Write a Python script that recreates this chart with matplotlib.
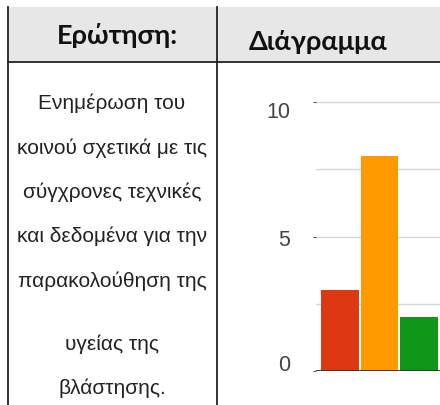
import matplotlib.pyplot as plt
from matplotlib.lines import Line2D
from matplotlib.patches import Rectangle
from matplotlib.transforms import ScaledTranslation

W, H = 440, 406

header_left = "Ερώτηση:"
header_right = "Διάγραμμα"
question_lines = [
    "Ενημέρωση του",
    "κοινού σχετικά με τις",
    "σύγχρονες τεχνικές",
    "και δεδομένα για την",
    "παρακολούθηση της",
    "υγείας της",
    "βλάστησης.",
]
line_y = [103, 148, 192, 236, 281, 344, 388]

bar_values = [3, 8, 2]
bar_colors = ["#dc3912", "#ff9900", "#109618"]
y_ticks = [0, 5, 10]


def fx(x):
    return x / W


def fy(y):
    return 1 - y / H


fig = plt.figure(figsize=(W / 100, H / 100), dpi=100)
fig.patch.set_facecolor("white")

# table header band and borders
fig.add_artist(Rectangle((fx(8), fy(63)), fx(440) - fx(8), fy(8) - fy(63),
                         transform=fig.transFigure, facecolor="#e7e7e7",
                         edgecolor="none", zorder=0))
for xs, ys in [((8, 8), (8, 406)), ((217, 217), (8, 406)), ((8, 440), (63, 63))]:
    fig.add_artist(Line2D([fx(xs[0]), fx(xs[1])], [fy(ys[0]), fy(ys[1])],
                          transform=fig.transFigure, color="#222222", lw=1.3))

fig.text(fx(117), fy(36), header_left, ha="center", va="center",
         fontsize=19.5, fontweight="bold", family="Lato", color="#111111")
fig.text(fx(318), fy(42), header_right, ha="center", va="center",
         fontsize=19.5, fontweight="bold", family="Lato", color="#111111")

for txt, y in zip(question_lines, line_y):
    fig.text(fx(112), fy(y), txt, ha="center", va="center",
             fontsize=15, family="Liberation Sans", color="#222222")

# chart
unit_px = 26.9
bar_px = 39.5
x0 = -(340 - 316) / bar_px
ax_w = 220
ymax = 10.4
ax = fig.add_axes([fx(316), fy(372), ax_w / W, ymax * unit_px / H])
ax.bar(range(len(bar_values)), bar_values, width=0.95, color=bar_colors, zorder=2)
ax.set_xlim(x0, x0 + ax_w / bar_px)
ax.set_ylim(0, ymax)

ax.set_yticks(y_ticks)
ax.set_yticks([2.5, 7.5], minor=True)
ax.grid(axis="y", which="both", color="#d6d6d6", lw=1, zorder=0)
ax.axhline(0, color="#333333", lw=1.3, zorder=3)
for s in ax.spines.values():
    s.set_visible(False)
ax.set_xticks([])
ax.tick_params(axis="y", which="major", length=2, color="#555555", pad=16.5,
               labelsize=15.5, labelcolor="#444444")
ax.tick_params(axis="y", which="minor", length=0)
for lab in ax.get_yticklabels():
    lab.set_family("Liberation Sans")
shifts = [9, 0, -7]
for lab, dy in zip(ax.get_yticklabels(), shifts):
    lab.set_transform(lab.get_transform() + ScaledTranslation(0, dy / 100, fig.dpi_scale_trans))

fig.savefig("out.png", dpi=100)
